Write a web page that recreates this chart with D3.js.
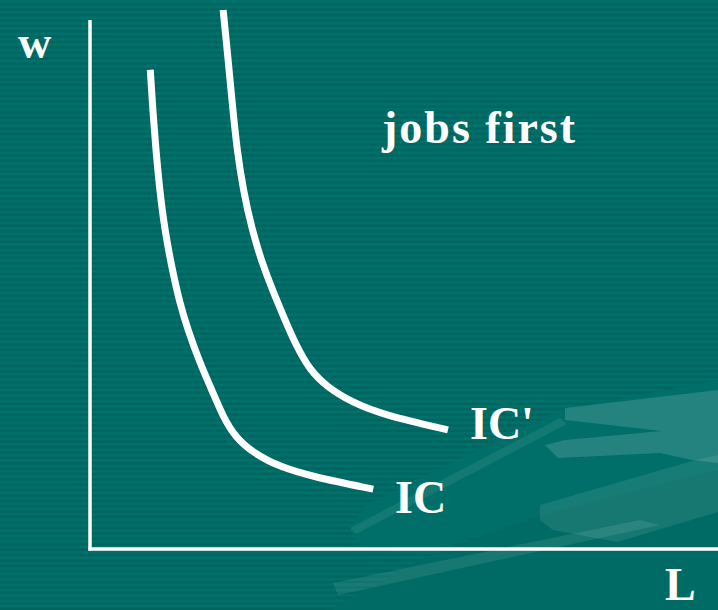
<!DOCTYPE html>
<html>
<head>
<meta charset="utf-8">
<script src="https://cdn.jsdelivr.net/npm/d3@7"></script>
<style>
  html, body { margin: 0; padding: 0; background: #006a64; }
  svg { display: block; }
  .lbl { font-family: "Liberation Serif", "Times New Roman", serif; font-weight: bold; fill: #fff; }
</style>
</head>
<body>
<svg id="chart" width="718" height="610"></svg>
<script>
// indifference curves, L on x, w on y (axis units 0..10)
var icL  = [0.96, 1.00, 1.05, 1.11, 1.19, 1.31, 1.43, 1.56, 1.75, 1.94, 2.12, 2.31, 2.60, 3.03, 3.55, 4.51];
var icW  = [8.89, 8.14, 7.40, 6.66, 5.92, 5.18, 4.56, 4.06, 3.45, 2.95, 2.45, 2.08, 1.78, 1.52, 1.34, 1.11];
var ic2L = [2.12, 2.20, 2.26, 2.34, 2.44, 2.58, 2.74, 2.90, 3.09, 3.28, 3.50, 3.77, 4.19, 4.67, 5.70];
var ic2W = [10.0, 9.07, 8.33, 7.40, 6.66, 5.92, 5.31, 4.82, 4.29, 3.78, 3.32, 3.01, 2.71, 2.49, 2.21];
var curveNames = ["IC", "IC'"];
var axisNames = ["w", "L"];
var title = "jobs first";

var width = 718, height = 610;
var svg = d3.select("#chart");

var x = d3.scaleLinear().domain([0, 10]).range([90, 718]);
var y = d3.scaleLinear().domain([0, 10]).range([549, 10]);

// striped background
var defs = svg.append("defs");
var pat = defs.append("pattern")
  .attr("id", "stripes")
  .attr("patternUnits", "userSpaceOnUse")
  .attr("width", 8).attr("height", 5.4);
pat.append("rect").attr("width", 8).attr("height", 5.4).attr("fill", "#00706a");
pat.append("rect").attr("y", 2.9).attr("width", 8).attr("height", 2.5).attr("fill", "#00645f");
svg.append("rect").attr("width", width).attr("height", height).attr("fill", "url(#stripes)");

// decorative shape bottom right
var deco = svg.append("g");
deco.append("path")
  .attr("d", "M330,610 L420,560 L560,505 L718,470 L718,610 Z")
  .attr("fill", "#006b65");
deco.append("path")
  .attr("d", "M350,530 L365,505 L560,410 L718,380 L718,470 L560,510 L420,555 L360,545 Z")
  .attr("fill", "#006f69");
deco.append("path")
  .attr("d", "M565,408 L718,390 L718,463 L692,460 L660,453 L558,458 L545,445 L565,440 L662,431 L565,420 Z")
  .attr("fill", "#ffffff").attr("opacity", 0.14);
deco.append("path")
  .attr("d", "M540,505 L692,461 L718,455 L718,512 L617,542 L553,530 L540,520 Z")
  .attr("fill", "#ffffff").attr("opacity", 0.09);
deco.append("path")
  .attr("d", "M350,528 L560,418 L567,424 L356,534 Z")
  .attr("fill", "#ffffff").attr("opacity", 0.07);
deco.append("path")
  .attr("d", "M333,583 L640,520 L660,525 L338,595 Z")
  .attr("fill", "#ffffff").attr("opacity", 0.09);

// axes
svg.append("line")
  .attr("x1", x(0)).attr("y1", y(0) + 1.5).attr("x2", x(0)).attr("y2", 20)
  .attr("stroke", "#fff").attr("stroke-width", 3.5);
svg.append("line")
  .attr("x1", x(0) - 1.5).attr("y1", y(0)).attr("x2", width).attr("y2", y(0))
  .attr("stroke", "#fff").attr("stroke-width", 3.5);

// curves
var line = d3.line()
  .x(function(d) { return x(d[0]); })
  .y(function(d) { return y(d[1]); })
  .curve(d3.curveBasis);

var curves = [d3.zip(icL, icW), d3.zip(ic2L, ic2W)];
svg.selectAll("path.ic")
  .data(curves)
  .enter()
  .append("path")
  .attr("class", "ic")
  .attr("d", line)
  .attr("fill", "none")
  .attr("stroke", "#fff")
  .attr("stroke-width", 7);

// labels
svg.append("text").attr("class", "lbl").attr("x", 18).attr("y", 58)
  .attr("font-size", 46).text(axisNames[0]);
svg.append("text").attr("class", "lbl").attr("x", 665).attr("y", 600)
  .attr("font-size", 46).text(axisNames[1]);
svg.append("text").attr("class", "lbl").attr("x", 382).attr("y", 143)
  .attr("font-size", 46).attr("letter-spacing", 2).text(title);
svg.append("text").attr("class", "lbl").attr("x", 395).attr("y", 513)
  .attr("font-size", 46).text(curveNames[0]);
svg.append("text").attr("class", "lbl").attr("x", 470).attr("y", 439)
  .attr("font-size", 46).text(curveNames[1]);
</script>
</body>
</html>
